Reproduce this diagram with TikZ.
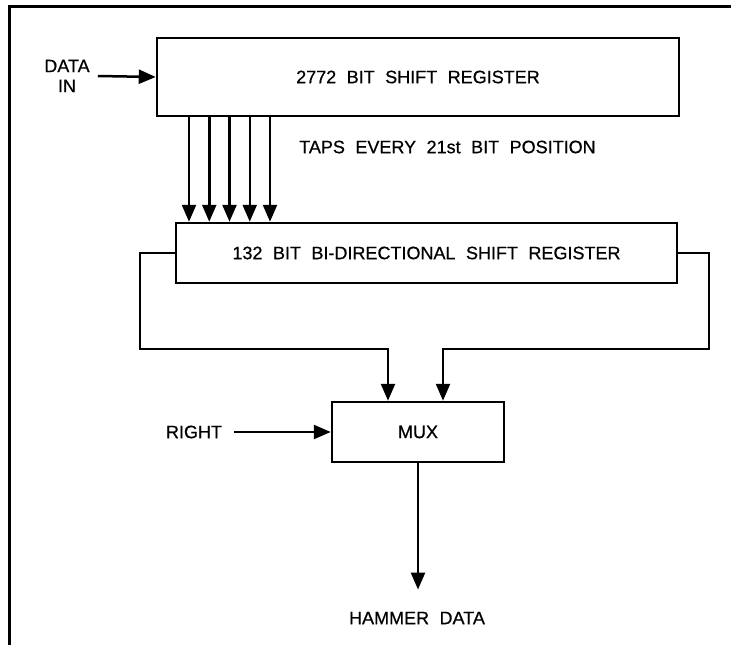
\documentclass[tikz,border=0pt]{standalone}
\usepackage{fontspec}
\setmainfont[WordSpace=2.1,FakeBold=0.6]{Liberation Sans}
\usetikzlibrary{arrows.meta,positioning}

\begin{document}
\begin{tikzpicture}[x=1pt,y=-1pt,line width=2.5pt,
    font=\fontsize{18}{20}\selectfont,
    blk/.style={draw,inner sep=0pt},
    lbl/.style={inner sep=0pt,align=center},
    arr/.style={-{Triangle[length=17pt,width=14pt]}}]
  \useasboundingbox (0,0) rectangle (731,645);
  \draw[line width=3pt] (9,645) -- (9,6) -- (731,6);
  \node[blk,minimum width=522pt,minimum height=78pt] (sr) at (418,77) {2772 BIT SHIFT REGISTER};
  \node[blk,minimum width=501pt,minimum height=60pt] (bidir) at (426.5,253) {132 BIT BI-DIRECTIONAL SHIFT REGISTER};
  \node[blk,minimum width=172pt,minimum height=60pt] (mux) at (418,432) {MUX};
  \node[lbl] (din) at (67,76) {DATA\\IN};
  \node[lbl,anchor=west] (taps) at (298,147) {TAPS EVERY 21st BIT POSITION};
  \node[lbl] (rt) at (194,432) {RIGHT};
  \node[lbl] (hd) at (417,618) {HAMMER DATA};
  \coordinate (lb) at (140,349);
  \coordinate (rb) at (709,349);
  \draw[arr] ([xshift=7pt]din.east) -- (sr.west);
  \foreach \x in {189,209.25,229.5,249.75,270}{\draw[arr] (sr.south -| \x,0) -- (bidir.north -| \x,0);}
  \draw[arr] (bidir.west) -| (lb) -| ([xshift=-30pt]mux.north);
  \draw[arr] (bidir.east) -| (rb) -| ([xshift=25pt]mux.north);
  \draw[arr] ([xshift=11pt]rt.east) -- (mux.west);
  \draw[arr,shorten >=21pt] (mux.south) -- (mux.south |- hd.north);
\end{tikzpicture}
\end{document}
